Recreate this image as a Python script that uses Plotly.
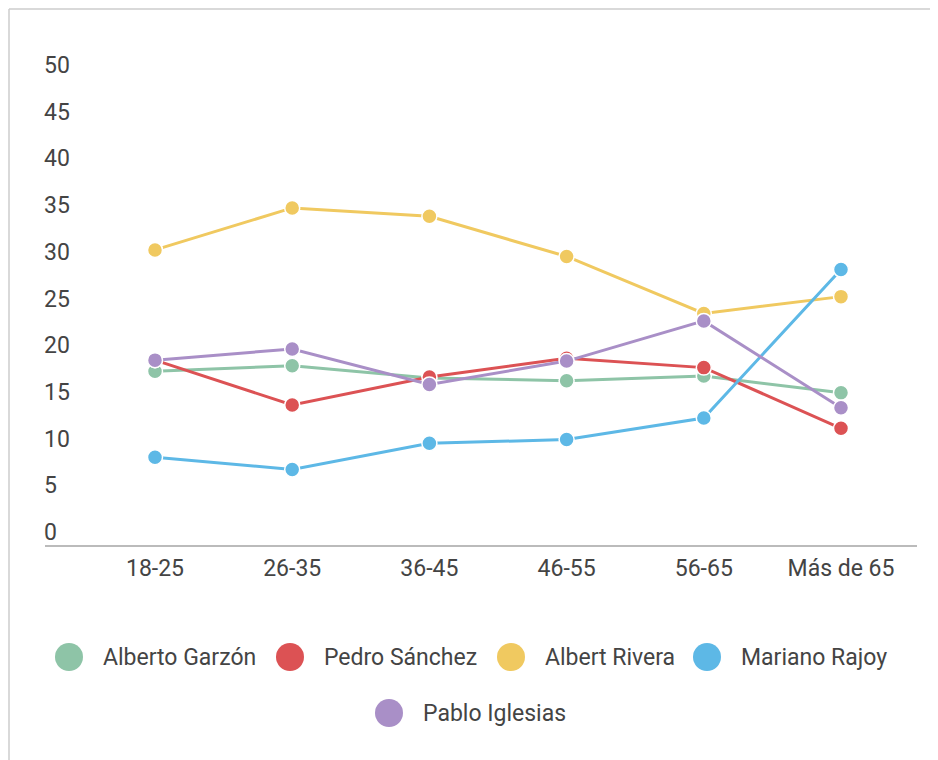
import plotly.graph_objects as go

categories = ["18-25", "26-35", "36-45", "46-55", "56-65", "Más de 65"]
names = ["Alberto Garzón", "Pedro Sánchez", "Albert Rivera", "Mariano Rajoy", "Pablo Iglesias"]
garzon = [17.2, 17.8, 16.5, 16.2, 16.7, 14.9]
sanchez = [18.4, 13.6, 16.6, 18.6, 17.6, 11.1]
rivera = [30.2, 34.7, 33.8, 29.5, 23.4, 25.2]
rajoy = [8.0, 6.7, 9.5, 9.9, 12.2, 28.1]
iglesias = [18.4, 19.6, 15.8, 18.3, 22.6, 13.3]
series = [garzon, sanchez, rivera, rajoy, iglesias]
colors = ["#8ec4a7", "#dc5254", "#f0c960", "#5db8e6", "#a98fc7"]
y_ticks = [0, 5, 10, 15, 20, 25, 30, 35, 40, 45, 50]

# page body has an 8px margin; lay the figure out in window pixels minus that offset
OFF = 8
W, H = 938 - OFF, 760 - OFF
L_win, R_win, T_win, B_win = 41, 917, 50, 552   # plot area in window pixels
BASE_win = 546                                  # baseline position in window pixels
L, T = L_win - OFF, T_win - OFF
R, B = (938 - R_win), (760 - B_win)
pw, ph = W - L - R, H - T - B

FONT = dict(family="Roboto, sans-serif", size=23, color="#444444")

fig = go.Figure()
for name, vals, col in zip(names, series, colors):
    fig.add_trace(go.Scatter(
        x=list(range(len(categories))), y=vals, name=name, mode="lines+markers",
        line=dict(color=col, width=3),
        marker=dict(color=col, size=15, line=dict(color="white", width=1.5)),
        showlegend=False,
    ))

def px_x(p):
    return (p - L_win) / pw

def px_y(p):
    return (B_win - p) / ph

shapes = []
annotations = []
# frame border
shapes.append(dict(type="line", xref="paper", yref="paper",
                   x0=px_x(9), x1=px_x(950), y0=px_y(9), y1=px_y(9),
                   line=dict(color="#cccccc", width=1.5)))
shapes.append(dict(type="line", xref="paper", yref="paper",
                   x0=px_x(9), x1=px_x(9), y0=px_y(9), y1=px_y(770),
                   line=dict(color="#cccccc", width=1.5)))
# baseline
shapes.append(dict(type="line", xref="paper", yref="paper",
                   x0=px_x(45), x1=1, y0=px_y(BASE_win), y1=px_y(BASE_win),
                   line=dict(color="#bbbbbb", width=2)))

# custom legend
legend_pos = [(69, 657), (290, 657), (511, 657), (707, 657), (389, 713)]
r = 14
for (cx, cy), name, col in zip(legend_pos, names, colors):
    shapes.append(dict(type="circle", xref="paper", yref="paper",
                       x0=px_x(cx - r), x1=px_x(cx + r), y0=px_y(cy + r), y1=px_y(cy - r),
                       fillcolor=col, line=dict(width=0)))
    annotations.append(dict(xref="paper", yref="paper", x=px_x(cx + 32), y=px_y(cy),
                            text=name, showarrow=False, xanchor="left", yanchor="middle",
                            font=FONT))

fig.update_layout(
    width=W, height=H,
    margin=dict(l=L, r=R, t=T, b=B),
    paper_bgcolor="white", plot_bgcolor="white",
    showlegend=False,
    shapes=shapes, annotations=annotations,
    xaxis=dict(
        tickmode="array", tickvals=list(range(len(categories))), ticktext=categories,
        range=[(L_win - 155) / 137.2, (R_win - 155) / 137.2], showgrid=False, zeroline=False,
        showline=False, ticks="",
        tickfont=FONT, fixedrange=True,
    ),
    yaxis=dict(
        tickmode="array", tickvals=y_ticks, range=[-(B_win - 532) / 9.34, 50 + (65 - T_win) / 9.34],
        showgrid=False, zeroline=False, showline=False, ticks="",
        ticklabelposition="inside", tickfont=FONT, fixedrange=True,
    ),
)

fig.write_html("out.html")
